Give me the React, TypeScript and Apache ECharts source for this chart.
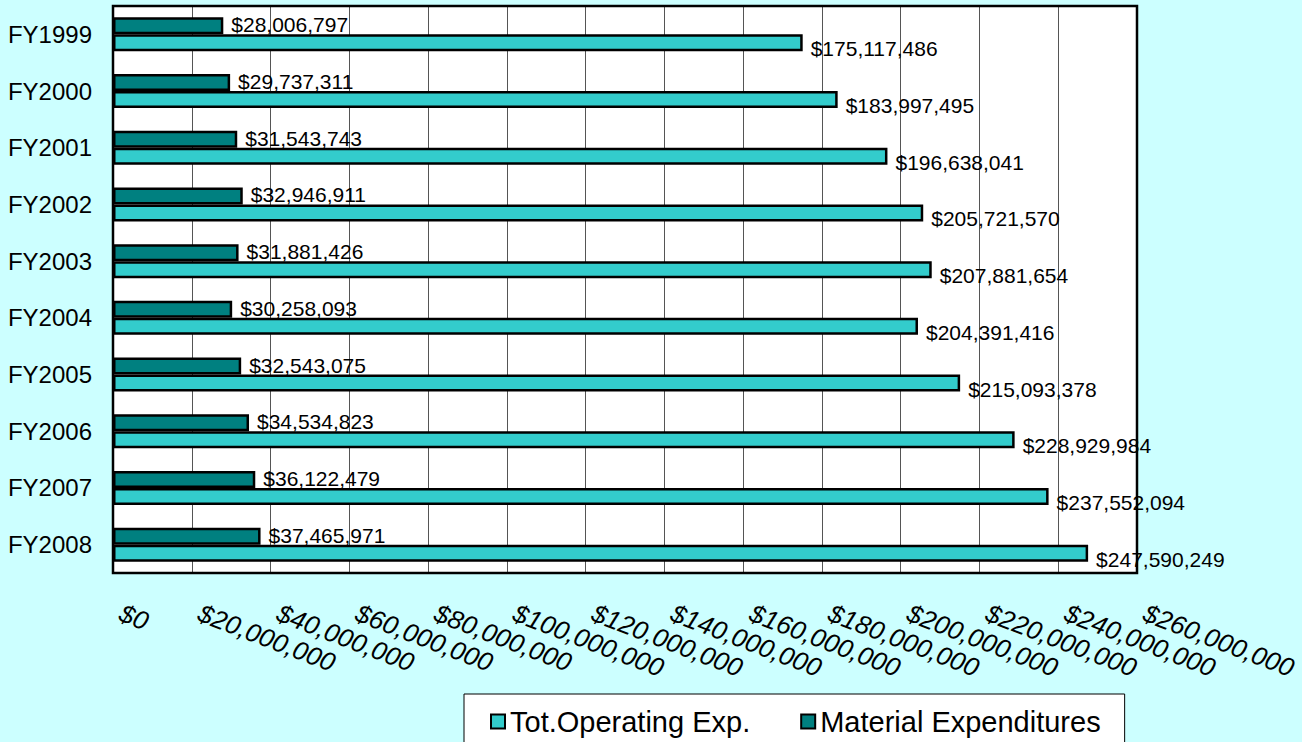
import React, { useEffect, useRef } from "react";
import * as echarts from "echarts";

const categories = ["FY1999", "FY2000", "FY2001", "FY2002", "FY2003", "FY2004", "FY2005", "FY2006", "FY2007", "FY2008"];
const totOperatingExp = [175117486, 183997495, 196638041, 205721570, 207881654, 204391416, 215093378, 228929984, 237552094, 247590249];
const materialExpenditures = [28006797, 29737311, 31543743, 32946911, 31881426, 30258093, 32543075, 34534823, 36122479, 37465971];
const axisMin = 0;
const axisMax = 260000000;
const axisInterval = 20000000;
const seriesNames = ["Tot.Operating Exp.", "Material Expenditures"];

const FONT = "'Liberation Sans', Arial, sans-serif";
const money = (v: number) => "$" + Math.round(v).toLocaleString("en-US");

export default function App() {
  const ref = useRef<HTMLDivElement>(null);
  useEffect(() => {
    if (!ref.current) return;
    const chart = echarts.init(ref.current, null, { renderer: "svg" });
    chart.setOption({
      animation: false,
      backgroundColor: "#CCFFFF",
      textStyle: { fontFamily: FONT, color: "#000" },
      grid: {
        left: 113,
        top: 6,
        width: 1024,
        height: 567,
        show: true,
        backgroundColor: "#FFFFFF",
        borderColor: "#000",
        borderWidth: 0,
      },
      legend: {
        data: seriesNames,
        left: 464,
        top: 694,
        orient: "horizontal",
        backgroundColor: "#FFFFFF",
        borderColor: "#000",
        borderWidth: 1,
        padding: [13, 24, 20, 26],
        itemGap: 50,
        itemWidth: 14,
        itemHeight: 14,
        icon: "rect",
        itemStyle: { borderColor: "#000", borderWidth: 2 },
        textStyle: { fontFamily: FONT, fontSize: 29, color: "#000" },
      },
      xAxis: {
        type: "value",
        min: axisMin,
        max: axisMax,
        interval: axisInterval,
        axisLine: { show: false },
        axisTick: { show: false },
        splitLine: { show: true, lineStyle: { color: "#555", width: 1 } },
        axisLabel: {
          rotate: -21,
          margin: 36,
          fontStyle: "italic",
          fontSize: 26,
          fontFamily: FONT,
          color: "#000",
          padding: [0, 0, 0, 8],
          formatter: (v: number) => money(v),
        },
      },
      yAxis: {
        type: "category",
        data: categories,
        inverse: true,
        axisLine: { show: false },
        axisTick: { show: false },
        splitLine: { show: false },
        axisLabel: { fontSize: 24, fontFamily: FONT, color: "#000", margin: 21 },
      },
      series: [
        {
          name: seriesNames[1],
          type: "bar",
          data: materialExpenditures,
          barWidth: 17,
          barGap: "0%",
          itemStyle: { color: "#008080", borderColor: "#000", borderWidth: 2.5 },
          label: {
            show: true,
            position: "right",
            distance: 8,
            offset: [0, -1],
            fontSize: 21,
            fontFamily: FONT,
            color: "#000",
            formatter: (p: any) => money(p.value),
          },
          z: 4,
        },
        {
          name: seriesNames[0],
          type: "bar",
          data: totOperatingExp,
          barWidth: 17,
          barGap: "0%",
          itemStyle: { color: "#33CCCC", borderColor: "#000", borderWidth: 2.5 },
          label: {
            show: true,
            position: "right",
            distance: 8,
            offset: [0, 6],
            fontSize: 21,
            fontFamily: FONT,
            color: "#000",
            formatter: (p: any) => money(p.value),
          },
          z: 4,
        },
      ],
      graphic: [
        {
          type: "rect",
          shape: { x: 113, y: 6, width: 1024, height: 567 },
          style: { fill: "none", stroke: "#000", lineWidth: 2.5 },
          z: 10,
          silent: true,
        },
      ],
    });
    return () => chart.dispose();
  }, []);
  return (
    <div
      ref={ref}
      style={{ position: "fixed", left: 0, top: 0, width: 1302, height: 742, background: "#CCFFFF" }}
    />
  );
}
